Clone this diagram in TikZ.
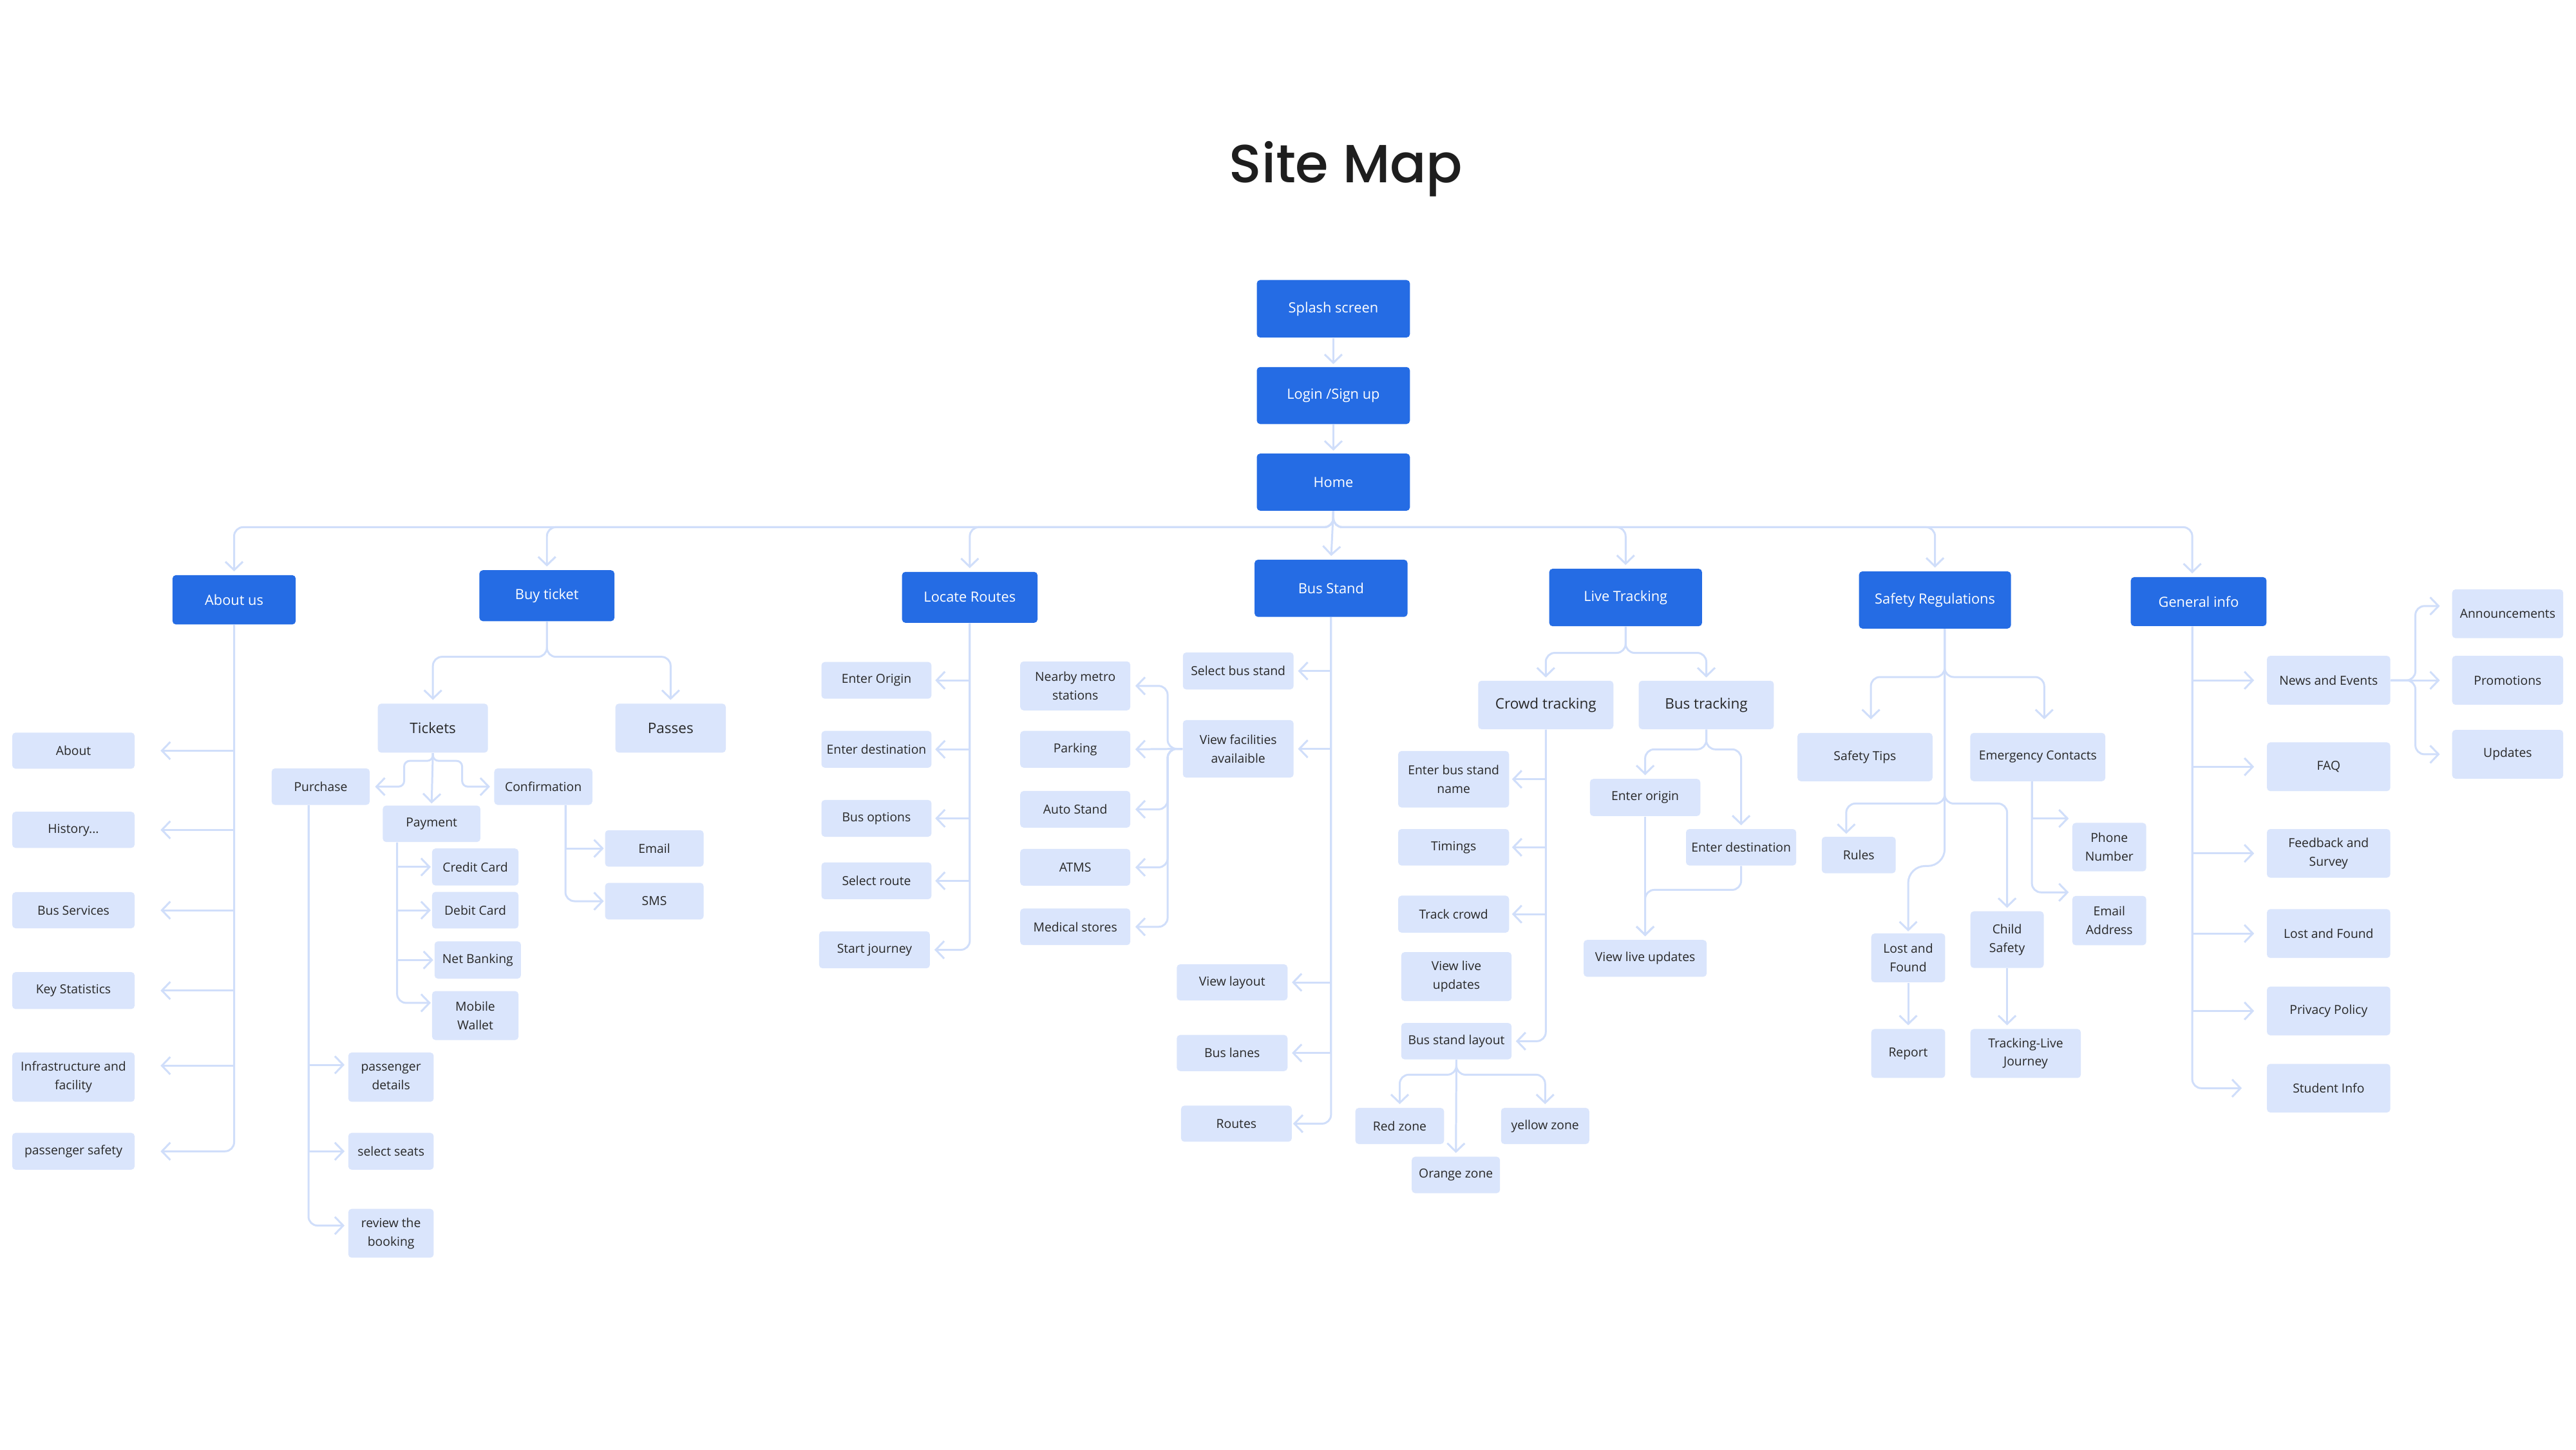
\documentclass[tikz,border=0pt]{standalone}
\usepackage{fontspec}
\setmainfont{Open Sans}
\newfontfamily\titlefont{Poppins}[UprightFont={* Medium}]
\usetikzlibrary{arrows.meta,calc}
\definecolor{cblue}{RGB}{37,108,228}
\definecolor{clight}{RGB}{218,229,252}
\definecolor{cline}{RGB}{208,222,250}
\definecolor{ctext}{RGB}{40,40,40}
\definecolor{ctitle}{RGB}{30,30,30}
\newlength\uu
\setlength\uu{0.02551cm}
\newcommand\lfont{\fontsize{5.5}{8.2}\selectfont}
\newcommand\bfont{\fontsize{6.2}{8}\selectfont}
\newcommand\mfont{\fontsize{6.4}{8}\selectfont}
\tikzset{
  bluebox/.style={rectangle,rounded corners=1.5pt,fill=cblue,text=white,font=\bfont,inner sep=0pt,align=center},
  lbox/.style={rectangle,rounded corners=1.5pt,fill=clight,text=ctext,font=\lfont,inner sep=0pt,align=center},
  conn/.style={draw=cline,line width=0.85pt,-{Straight Barb[length=1.3mm,width=2.7mm]}},
  rc/.style={rounded corners=4pt}
}
\newcommand\bbx[5]{\node[bluebox,minimum width=#3\uu,minimum height=#4\uu] (#1) at (#2) {#5};}
\newcommand\lbx[5]{\node[lbox,minimum width=#3\uu,minimum height=#4\uu] (#1) at (#2) {#5};}
\newcommand\mbx[5]{\node[lbox,font=\mfont,minimum width=#3\uu,minimum height=#4\uu] (#1) at (#2) {#5};}
\begin{document}
\begin{tikzpicture}[x={(0.02551cm,0)},y={(0,-0.02551cm)}]
\fill[white] (0,0) rectangle (1568,882);
\useasboundingbox (0,0) rectangle (1568,882);
\node[font=\titlefont\fontsize{23.7}{28}\selectfont,text=ctitle,anchor=base,inner sep=0pt] (title) at (819.3,111.3) {Site Map};
% blue nodes
\bbx{splash}{811.6,187.9}{93.2}{35}{Splash screen}
\bbx{login}{811.6,240.7}{93.2}{34.7}{Login /Sign up}
\bbx{home}{811.6,293.4}{93.2}{34.8}{Home}
\bbx{aboutus}{142.5,365}{75}{30}{About us}
\bbx{buy}{332.9,362.5}{82.2}{31}{Buy ticket}
\bbx{locate}{590.3,363.5}{82.5}{31}{Locate Routes}
\bbx{busstand}{810.2,358}{93.1}{34.8}{Bus Stand}
\bbx{live}{989.5,363.6}{93}{35}{Live Tracking}
\bbx{safety}{1177.8,365.1}{92.5}{34.8}{Safety Regulations}
\bbx{general}{1338.3,366.1}{82.6}{29.8}{General info}
% about us
\lbx{about}{44.7,456.8}{74.5}{22}{About}
\lbx{history}{44.7,505}{74.5}{22}{History...}
\lbx{busserv}{44.7,553.9}{74.5}{22}{Bus Services}
\lbx{keystat}{44.7,602.8}{74.5}{22.5}{Key Statistics}
\lbx{infra}{44.7,655.5}{74.5}{30}{Infrastructure and\\facility}
\lbx{psafety}{44.7,700.6}{74.5}{22.4}{passenger safety}
% buy ticket
\mbx{tickets}{263.5,443.1}{67}{29.8}{Tickets}
\mbx{passes}{408.2,443.1}{67.2}{29.8}{Passes}
\lbx{purchase}{195.2,478.7}{59.7}{22.2}{Purchase}
\lbx{payment}{262.7,501.3}{59.4}{22.2}{Payment}
\lbx{confirm}{330.7,478.7}{59.7}{22.2}{Confirmation}
\lbx{credit}{289.3,527.6}{52.6}{22.5}{Credit Card}
\lbx{debit}{289.3,553.9}{52.6}{22.3}{Debit Card}
\lbx{netb}{290.8,584.2}{52.6}{22.7}{Net Banking}
\lbx{mobile}{289.3,618}{52.6}{29.8}{Mobile\\Wallet}
\lbx{email}{398.3,516.3}{60}{22.2}{Email}
\lbx{sms}{398.3,548.4}{60}{22.3}{SMS}
\lbx{pdet}{238,655.5}{52}{30}{passenger\\details}
\lbx{seats}{238,700.6}{52}{22.4}{select seats}
\lbx{review}{238,750.5}{52}{29.7}{review the\\booking}
% locate routes
\lbx{eorig}{533.5,414}{67}{22.4}{Enter Origin}
\lbx{edest1}{533.5,456}{67}{22.4}{Enter destination}
\lbx{busopt}{533.5,498}{67}{22.4}{Bus options}
\lbx{selroute}{533.5,536}{67}{22.4}{Select route}
\lbx{startj}{532.3,578}{67.4}{22.5}{Start journey}
% bus stand
\lbx{selbs}{753.7,408.3}{67.4}{22.5}{Select bus stand}
\lbx{viewfac}{753.7,455.7}{67.4}{35}{View facilities\\availaible}
\lbx{metro}{654.5,417.4}{67}{29.8}{Nearby metro\\stations}
\lbx{parking}{654.5,456}{67}{22.4}{Parking}
\lbx{autos}{654.5,492.5}{67}{22.3}{Auto Stand}
\lbx{atms}{654.5,527.8}{67}{22.4}{ATMS}
\lbx{medical}{654.5,564}{67}{22.3}{Medical stores}
\lbx{viewlay}{750,597.8}{67.4}{22}{View layout}
\lbx{buslanes}{750,640.8}{67.4}{22}{Bus lanes}
\lbx{routes}{752.6,683.8}{67.4}{22}{Routes}
% live tracking
\mbx{crowd}{940.9,429}{82.3}{29.5}{Crowd tracking}
\mbx{bustrk}{1038.6,429}{82.2}{29.5}{Bus tracking}
\lbx{ebsn}{884.8,474.2}{67.5}{34.4}{Enter bus stand\\name}
\lbx{timings}{884.8,515.6}{67.5}{22.2}{Timings}
\lbx{trackc}{884.8,556.3}{67.5}{22.5}{Track crowd}
\lbx{vlu1}{886.5,594.3}{67.2}{29.8}{View live\\updates}
\lbx{bsl}{886.5,633.6}{67.2}{22.1}{Bus stand layout}
\lbx{red}{852,685.2}{54}{22}{Red zone}
\lbx{yellow}{940.5,685.2}{53.7}{22}{yellow zone}
\lbx{orange}{886.2,715}{53.7}{22.2}{Orange zone}
\lbx{eorigin}{1001.4,485.3}{67.2}{22.6}{Enter origin}
\lbx{edest2}{1059.8,515.6}{67.1}{22.2}{Enter destination}
\lbx{vlu2}{1001.4,583.2}{74.9}{22.4}{View live updates}
% safety
\lbx{tips}{1135.2,460.7}{82.2}{29.4}{Safety Tips}
\lbx{emerg}{1240.4,460.7}{82.2}{29.4}{Emergency Contacts}
\lbx{rules}{1131.4,520.3}{45}{22.2}{Rules}
\lbx{lostf}{1161.5,582.9}{45}{29.7}{Lost and\\Found}
\lbx{child}{1221.7,571.8}{44.6}{34.5}{Child\\Safety}
\lbx{report}{1161.5,641.1}{45}{29.8}{Report}
\lbx{tlj}{1233,641.1}{67.2}{29.8}{Tracking-Live\\Journey}
\lbx{phone}{1283.9,515.5}{45}{29.5}{Phone\\Number}
\lbx{emaila}{1283.9,560.2}{45}{30}{Email\\Address}
% general
\lbx{ne}{1417.4,414}{75.1}{29.8}{News and Events}
\lbx{faq}{1417.4,466.6}{75.1}{29.7}{FAQ}
\lbx{feedback}{1417.4,519.3}{75.1}{29.6}{Feedback and\\Survey}
\lbx{lostf2}{1417.4,568.1}{75.1}{29.7}{Lost and Found}
\lbx{privacy}{1417.4,615.2}{75.1}{29.7}{Privacy Policy}
\lbx{student}{1417.4,662.2}{75.1}{29.6}{Student Info}
\lbx{ann}{1526.4,373.5}{67.6}{29.7}{Announcements}
\lbx{promo}{1526.4,414}{67.6}{29.8}{Promotions}
\lbx{updates}{1526.4,459}{67.6}{29.7}{Updates}
% ---------- connectors ----------
\draw[conn,shorten >=1.5\uu] (splash.south) -- (login.north);
\draw[conn,shorten >=1.5\uu] (login.south) -- (home.north);
\coordinate (hb) at (811.6,320.8);
\foreach \t in {aboutus,buy,locate,live,safety}{\draw[conn,rc,shorten >=2\uu] (home.south) -- (hb) -| (\t.north);}
\draw[conn,rc,shorten >=2\uu] (home.south) -- (hb) -| ($(general.north)+(-3.9,0)$);
\draw[conn,shorten >=2\uu] (home.south) -- (busstand.north);
% about us
\foreach \t in {about,history,busserv,keystat}{\draw[conn,shorten >=15.5\uu] (aboutus.south) |- (\t.east);}
\draw[conn,shorten >=15.5\uu] (aboutus.south) |- ($(infra.east)+(0,-7)$);
\draw[conn,rc,shorten >=15.5\uu] (aboutus.south) |- (psafety.east);
% buy ticket
\coordinate (bsplit) at (332.9,399.7);
\draw[conn,rc,shorten >=2\uu] (buy.south) -- (bsplit) -| (tickets.north);
\draw[conn,rc,shorten >=2\uu] (buy.south) -- (bsplit) -| (passes.north);
\draw[conn,rounded corners=2.5pt,shorten >=3\uu] (tickets.south) |- (246,463) |- (purchase.east);
\draw[conn,rounded corners=2.5pt,shorten >=2.3\uu] (tickets.south) |- (281.3,463) |- (confirm.west);
\draw[conn,shorten >=1\uu] (tickets.south) -- (payment.north);
\coordinate (pt) at ($(payment.south west)+(9,0)$);
\foreach \t in {credit,debit,netb}{\draw[conn,shorten >=0.5\uu] (pt) |- (\t.west);}
\draw[conn,rc,shorten >=0.5\uu] (pt) |- ($(mobile.west)+(0,-7.7)$);
\coordinate (ct) at ($(confirm.south west)+(43.6,0)$);
\draw[conn,shorten >=0.5\uu] (ct) |- (email.west);
\draw[conn,rc,shorten >=0.5\uu] (ct) |- (sms.west);
\coordinate (put) at ($(purchase.south west)+(22.7,0)$);
\draw[conn,shorten >=2\uu] (put) |- ($(pdet.west)+(0,-7.5)$);
\draw[conn,shorten >=2\uu] (put) |- (seats.west);
\draw[conn,rc,shorten >=2\uu] (put) |- ($(review.west)+(0,-4.7)$);
% locate routes
\foreach \t in {eorig,edest1,busopt,selroute}{\draw[conn,shorten >=2\uu] (locate.south) |- (\t.east);}
\draw[conn,rc,shorten >=2.5\uu] (locate.south) |- (startj.east);
% bus stand
\foreach \t in {selbs,viewfac,viewlay,buslanes}{\draw[conn,shorten >=2.4\uu] (busstand.south) |- (\t.east);}
\draw[conn,rc,shorten >=0.5\uu] (busstand.south) |- (routes.east);
\coordinate (vft) at ($(viewfac.west)+(-9,0)$);
\draw[conn,shorten >=2.8\uu] (viewfac.west) -- (parking.east);
\foreach \t in {metro,autos,atms,medical}{\draw[conn,rc,shorten >=2.8\uu] (viewfac.west) -- (vft) |- (\t.east);}
% live tracking
\coordinate (lsplit) at (989.5,397.3);
\draw[conn,rc,shorten >=1.7\uu] (live.south) -- (lsplit) -| (crowd.north);
\draw[conn,rc,shorten >=1.7\uu] (live.south) -- (lsplit) -| (bustrk.north);
\foreach \t in {ebsn,timings,trackc}{\draw[conn,shorten >=1.5\uu] (crowd.south) |- (\t.east);}
\draw[conn,rc,shorten >=2.3\uu] (crowd.south) |- (bsl.east);
\coordinate (bsplit2) at (886.5,654);
\draw[conn,rc,shorten >=2\uu] (bsl.south) -- (bsplit2) -| (red.north);
\draw[conn,rc,shorten >=2\uu] (bsl.south) -- (bsplit2) -| (yellow.north);
\draw[conn,shorten >=2\uu] (bsl.south) -- (orange.north);
\coordinate (btsplit) at (1038.6,456);
\draw[conn,rc,shorten >=2\uu] (bustrk.south) -- (btsplit) -| (eorigin.north);
\draw[conn,rc,shorten >=2\uu] (bustrk.south) -- (btsplit) -| (edest2.north);
\draw[conn,shorten >=2\uu] (eorigin.south) -- (vlu2.north);
\draw[conn,rc,shorten >=2\uu] (edest2.south) |- ($(vlu2.north)+(0,-30.2)$) -- (vlu2.north);
% safety
\coordinate (st) at ($(safety.south)+(5.9,0)$);
\coordinate (ss1) at (1183.7,412);
\coordinate (ss2) at (1183.7,489);
\draw[conn,rc,shorten >=8\uu] (st) -- (ss1) -| ($(tips.north)+(3.6,0)$);
\draw[conn,rc,shorten >=8\uu] (st) -- (ss1) -| ($(emerg.north)+(3.9,0)$);
\draw[conn,rc,shorten >=1.5\uu] (st) -- (ss2) -| ($(rules.north)+(-7.6,0)$);
\draw[conn,rc,shorten >=1.8\uu] (st) -- (ss2) -| (child.north);
\draw[conn,rounded corners=7.5pt,shorten >=1\uu] (st) -- (1183.7,527) -| (lostf.north);
\draw[conn,shorten >=2\uu] (lostf.south) -- (report.north);
\draw[conn,shorten >=2\uu] (child.south) -- (child.south |- tlj.north);
\coordinate (et) at ($(emerg.south)+(-3.6,0)$);
\draw[conn] (et) |- ($(phone.north west)+(-1.9,-2.4)$);
\draw[conn,rc] (et) |- ($(emaila.north west)+(-1.9,-1.9)$);
% general
\coordinate (gt) at ($(general.south)+(-3.9,0)$);
\foreach \t in {ne,faq,feedback,lostf2,privacy}{\draw[conn,shorten >=7.5\uu] (gt) |- (\t.west);}
\draw[conn,rc,shorten >=15\uu] (gt) |- (student.west);
\coordinate (nt) at ($(ne.east)+(15,0)$);
\draw[conn,rc,shorten >=7.2\uu] (ne.east) -- (nt) |- ($(ann.west)+(0,-4.7)$);
\draw[conn,shorten >=7.2\uu] (ne.east) -- (promo.west);
\draw[conn,rc,shorten >=7.2\uu] (ne.east) -- (nt) |- (updates.west);
\end{tikzpicture}
\end{document}
